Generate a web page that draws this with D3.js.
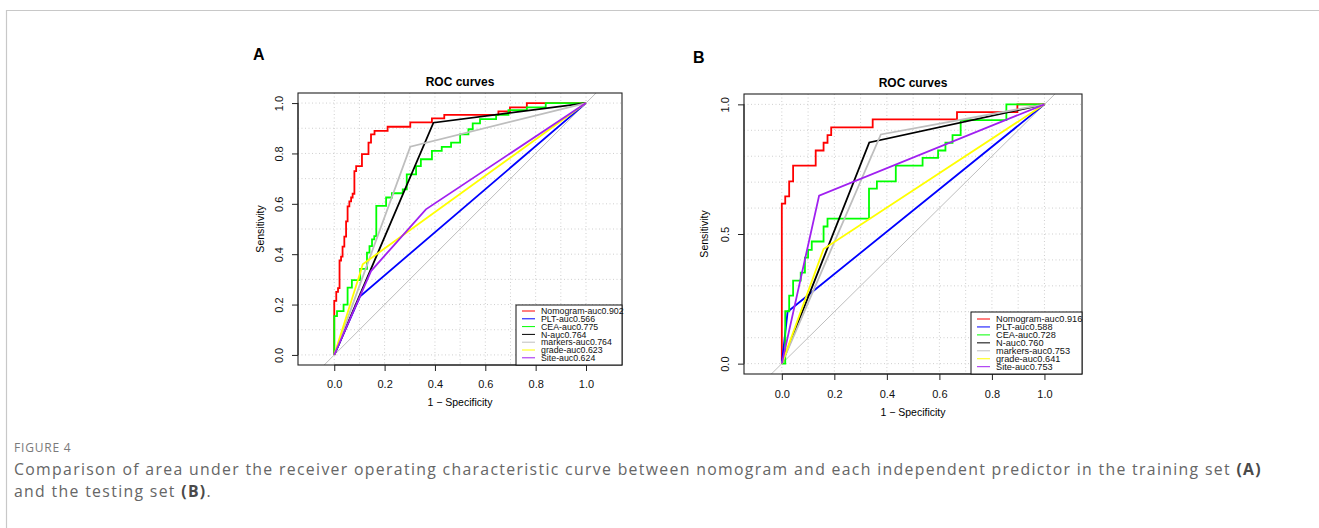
<!DOCTYPE html>
<meta charset="utf-8">
<body>
<script src="https://d3js.org/d3.v7.min.js" charset="utf-8"></script>
<style type="text/css">
  body { margin: 0; background: #fff; }
  .rtext { font-family: "Liberation Sans", Arial, sans-serif; }
  .caption { font-family: "Open Sans", sans-serif; }
</style>
<script>
var width = 1319;
var height = 528;

// legend names and auc values
var names = ["Nomogram", "PLT", "CEA", "N", "markers", "grade", "Site"];
var aucA = ["0.902", "0.566", "0.775", "0.764", "0.764", "0.623", "0.624"];
var aucB = ["0.916", "0.588", "0.728", "0.760", "0.753", "0.641", "0.753"];
var colors = ["#ff0000", "#0000ff", "#00ff00", "#000000", "#bebebe", "#ffff00", "#a020f0"];
var stepped = [true, false, true, false, false, false, false];

var xTicks = [0, 0.2, 0.4, 0.6, 0.8, 1.0];
var yTicksA = [0, 0.2, 0.4, 0.6, 0.8, 1.0];
var yTicksB = [0, 0.5, 1.0];
var gridTicks = [0, 0.1, 0.2, 0.3, 0.4, 0.5, 0.6, 0.7, 0.8, 0.9, 1.0];

// training set (A): [1 - specificity, sensitivity]
var nomogramA = [[0, 0], [0, 0.215], [0.008, 0.25], [0.015, 0.265], [0.021, 0.375], [0.027, 0.39],
  [0.033, 0.43], [0.04, 0.47], [0.047, 0.53], [0.053, 0.59], [0.06, 0.61], [0.067, 0.625],
  [0.073, 0.64], [0.08, 0.73], [0.087, 0.75], [0.11, 0.797], [0.136, 0.843], [0.146, 0.876],
  [0.16, 0.89], [0.212, 0.906], [0.302, 0.923], [0.388, 0.939], [0.437, 0.953], [0.652, 0.967],
  [0.698, 0.983], [0.765, 1.0], [1, 1]];
var pltA = [[0, 0], [0.103, 0.233], [1, 1]];
var ceaA = [[0, 0], [0, 0.154], [0.011, 0.174], [0.037, 0.2], [0.053, 0.267], [0.07, 0.297],
  [0.103, 0.342], [0.13, 0.406], [0.14, 0.432], [0.15, 0.459], [0.159, 0.472], [0.167, 0.592],
  [0.206, 0.625], [0.229, 0.642], [0.272, 0.657], [0.288, 0.717], [0.325, 0.75], [0.344, 0.777],
  [0.388, 0.81], [0.427, 0.826], [0.464, 0.843], [0.5, 0.876], [0.533, 0.896], [0.55, 0.919],
  [0.579, 0.936], [0.643, 0.953], [0.692, 0.972], [0.765, 0.983], [0.84, 1.0], [1, 1]];
var nA = [[0, 0], [0.394, 0.922], [1, 1]];
var markersA = [[0, 0], [0.302, 0.827], [1, 1]];
var gradeA = [[0, 0], [0.106, 0.335], [0.113, 0.36], [1, 1]];
var siteA = [[0, 0], [0.146, 0.333], [0.364, 0.578], [1, 1]];

// testing set (B)
var nomogramB = [[0, 0], [0, 0.617], [0.013, 0.645], [0.028, 0.703], [0.043, 0.764], [0.129, 0.822],
  [0.159, 0.852], [0.174, 0.881], [0.188, 0.911], [0.346, 0.942], [0.667, 0.97], [0.897, 1.0], [1, 1]];
var pltB = [[0, 0], [0.022, 0.2], [1, 1]];
var ceaB = [[0, 0], [0.013, 0], [0.013, 0.202], [0.028, 0.262], [0.043, 0.32], [0.072, 0.351],
  [0.088, 0.409], [0.1, 0.439], [0.114, 0.471], [0.159, 0.529], [0.174, 0.559], [0.332, 0.675],
  [0.362, 0.703], [0.434, 0.764], [0.536, 0.794], [0.595, 0.822], [0.623, 0.852], [0.65, 0.881],
  [0.681, 0.939], [0.855, 1.0], [1, 1]];
var nB = [[0, 0], [0.333, 0.853], [1, 1]];
var markersB = [[0, 0], [0.377, 0.884], [1, 1]];
var gradeB = [[0, 0], [0.159, 0.442], [1, 1]];
var siteB = [[0, 0], [0.142, 0.648], [1, 1]];

var svg = d3.select("body")
            .append("svg")
            .attr("width", width)
            .attr("height", height);

svg.append("rect").attr("width", width).attr("height", height).attr("fill", "#fff");

// thin page frame
svg.append("path")
   .attr("d", "M6.5," + height + "V10.5H" + width)
   .attr("fill", "none")
   .attr("stroke", "#c8c8c8")
   .attr("stroke-width", 1.2);

function drawPanel(p) {
  var x = d3.scaleLinear().domain([-0.144, 1.143]).range([p.left, p.right]);
  var y = d3.scaleLinear().domain([-0.04, 1.04]).range([p.bottom, p.top]);
  var g = svg.append("g");

  var defs = svg.append("defs");
  defs.append("clipPath").attr("id", "box" + p.id)
      .append("rect")
      .attr("x", p.left).attr("y", p.top)
      .attr("width", p.right - p.left).attr("height", p.bottom - p.top);
  defs.append("clipPath").attr("id", "fig" + p.id)
      .append("rect")
      .attr("x", p.left).attr("y", 0)
      .attr("width", p.right - p.left + 2.5).attr("height", height);

  var plot = g.append("g").attr("clip-path", "url(#box" + p.id + ")");

  // dotted grid
  plot.selectAll(".vgrid").data(gridTicks).enter().append("line")
      .attr("x1", function(d) { return x(d); })
      .attr("x2", function(d) { return x(d); })
      .attr("y1", p.top).attr("y2", p.bottom)
      .attr("stroke", "#cfcfcf").attr("stroke-dasharray", "1,2.5");
  plot.selectAll(".hgrid").data(gridTicks).enter().append("line")
      .attr("x1", p.left).attr("x2", p.right)
      .attr("y1", function(d) { return y(d); })
      .attr("y2", function(d) { return y(d); })
      .attr("stroke", "#cfcfcf").attr("stroke-dasharray", "1,2.5");

  // chance line
  plot.append("line")
      .attr("x1", x(-0.3)).attr("y1", y(-0.3))
      .attr("x2", x(1.3)).attr("y2", y(1.3))
      .attr("stroke", "#bebebe").attr("stroke-width", 1);

  p.series.forEach(function(s, i) {
    var line = d3.line()
                 .x(function(d) { return x(d[0]); })
                 .y(function(d) { return y(d[1]); })
                 .curve(stepped[i] ? d3.curveStepAfter : d3.curveLinear);
    plot.append("path")
        .datum(s)
        .attr("d", line)
        .attr("fill", "none")
        .attr("stroke", colors[i])
        .attr("stroke-width", 1.8);
  });

  g.append("rect")
   .attr("x", p.left).attr("y", p.top)
   .attr("width", p.right - p.left).attr("height", p.bottom - p.top)
   .attr("fill", "none").attr("stroke", "#222").attr("stroke-width", 1.1);

  // axes
  var gx = g.append("g")
            .attr("transform", "translate(0," + p.bottom + ")")
            .call(d3.axisBottom(x).tickValues(xTicks).tickSize(6).tickFormat(d3.format(".1f")));
  gx.select(".domain").attr("d", "M" + x(0) + ",0H" + x(1)).attr("stroke", "#222");
  gx.selectAll(".tick line").attr("stroke", "#222");
  gx.selectAll(".tick text")
    .attr("class", "rtext").attr("font-size", 11).attr("fill", "#111")
    .attr("y", p.xlabOff).attr("dy", 0);

  var gy = g.append("g")
            .attr("transform", "translate(" + p.left + ",0)")
            .call(d3.axisLeft(y).tickValues(p.yTicks).tickSize(6).tickFormat(d3.format(".1f")));
  gy.select(".domain").attr("d", "M0," + y(0) + "V" + y(1)).attr("stroke", "#222");
  gy.selectAll(".tick line").attr("stroke", "#222");
  gy.selectAll(".tick text")
    .attr("class", "rtext").attr("font-size", 11).attr("fill", "#111")
    .attr("transform", "rotate(-90)")
    .attr("text-anchor", "middle")
    .attr("x", 0).attr("y", -14.7).attr("dy", 0);

  // legend
  var leg = g.append("g");
  leg.append("rect")
     .attr("x", p.legLeft).attr("y", p.legTop)
     .attr("width", p.right - p.legLeft).attr("height", p.bottom - p.legTop)
     .attr("fill", "#fff").attr("stroke", "#111").attr("stroke-width", 1);
  var items = leg.append("g").attr("clip-path", "url(#fig" + p.id + ")");
  names.forEach(function(n, i) {
    var yy = p.legFirst + i * p.legStep;
    items.append("line")
         .attr("x1", p.legLeft + 6).attr("x2", p.legLeft + 19)
         .attr("y1", yy).attr("y2", yy)
         .attr("stroke", colors[i]).attr("stroke-width", 1);
    items.append("text")
         .attr("class", "rtext")
         .attr("x", p.legLeft + 25).attr("y", yy + 3.2)
         .attr("font-size", p.legFont).attr("fill", "#111")
         .text(n + "-auc" + p.auc[i]);
  });

  var cx = (p.left + p.right) / 2;
  g.append("text").attr("class", "rtext")
   .attr("x", cx).attr("y", p.top - 7)
   .attr("text-anchor", "middle").attr("font-size", 12).attr("font-weight", "bold")
   .text("ROC curves");
  g.append("text").attr("class", "rtext")
   .attr("x", cx).attr("y", p.bottom + p.xtitleOff)
   .attr("text-anchor", "middle").attr("font-size", 10.5)
   .text("1 \u2212 Specificity");
  g.append("text").attr("class", "rtext")
   .attr("transform", "translate(" + (p.left - p.ytitleOff) + "," + ((p.top + p.bottom) / 2) + ") rotate(-90)")
   .attr("text-anchor", "middle").attr("font-size", 10.5)
   .text("Sensitivity");
  g.append("text").attr("class", "rtext")
   .attr("x", p.letterX).attr("y", p.letterY)
   .attr("font-size", 16).attr("font-weight", "bold")
   .text(p.letter);
}

drawPanel({
  id: "A", letter: "A", letterX: 253, letterY: 60,
  left: 298, right: 622, top: 93, bottom: 365,
  yTicks: yTicksA, xlabOff: 23, xtitleOff: 41, ytitleOff: 34.5,
  legLeft: 516, legTop: 305, legFirst: 311, legStep: 7.8, legFont: 8.8,
  auc: aucA,
  series: [nomogramA, pltA, ceaA, nA, markersA, gradeA, siteA]
});

drawPanel({
  id: "B", letter: "B", letterX: 693, letterY: 63,
  left: 744, right: 1082, top: 94, bottom: 374,
  yTicks: yTicksB, xlabOff: 23.5, xtitleOff: 42, ytitleOff: 36,
  legLeft: 971, legTop: 312, legFirst: 319, legStep: 7.95, legFont: 9.2,
  auc: aucB,
  series: [nomogramB, pltB, ceaB, nB, markersB, gradeB, siteB]
});

// caption
svg.append("text").attr("class", "caption")
   .attr("x", 14).attr("y", 452)
   .attr("font-size", 12).attr("fill", "#7a7a7a").attr("letter-spacing", 0.8)
   .text("FIGURE 4");

var capSize = 15.8;
var cap1 = svg.append("text").attr("class", "caption")
   .attr("x", 14).attr("y", 475).attr("font-size", capSize).attr("fill", "#666");
cap1.append("tspan").text("Comparison of area under the receiver operating characteristic curve between nomogram and each independent predictor in the training set ");
cap1.append("tspan").attr("font-weight", "bold").attr("fill", "#4a4a4a").text("(A)");

var cap2 = svg.append("text").attr("class", "caption")
   .attr("x", 14).attr("y", 497).attr("font-size", capSize).attr("fill", "#666");
cap2.append("tspan").text("and the testing set ");
cap2.append("tspan").attr("font-weight", "bold").attr("fill", "#4a4a4a").text("(B)");
cap2.append("tspan").text(".");

// spread the first caption line to the width it has in the figure
var len = cap1.node().getComputedTextLength();
var nChars = cap1.text().length;
var spacing = (1248 - len) / nChars;
cap1.attr("letter-spacing", spacing);
cap2.attr("letter-spacing", spacing);
</script>
</body>
</html>
